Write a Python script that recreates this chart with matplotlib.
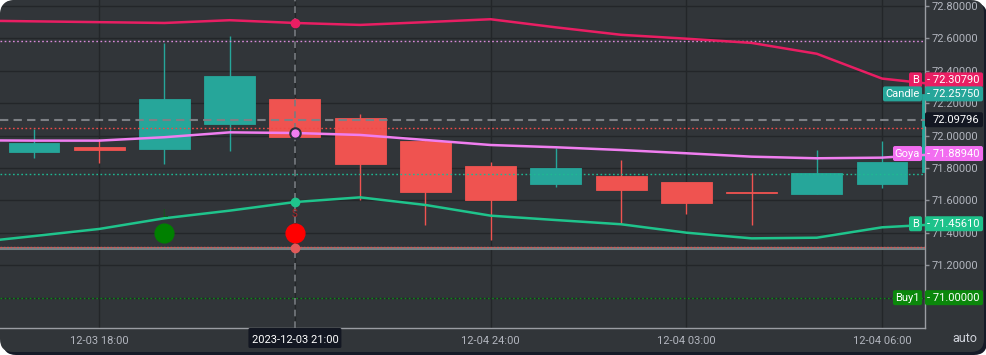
import numpy as np
import pandas as pd
import matplotlib
matplotlib.use('Agg')
import matplotlib.pyplot as plt
import matplotlib.dates as mdates
from matplotlib.patches import FancyBboxPatch, Polygon
from matplotlib.transforms import IdentityTransform

plt.rcParams['font.family'] = ['Roboto', 'DejaVu Sans']

# ---------------- data ----------------
times = ['2023-12-03 17:00', '2023-12-03 18:00', '2023-12-03 19:00', '2023-12-03 20:00',
         '2023-12-03 21:00', '2023-12-03 22:00', '2023-12-03 23:00', '2023-12-04 00:00',
         '2023-12-04 01:00', '2023-12-04 02:00', '2023-12-04 03:00', '2023-12-04 04:00',
         '2023-12-04 05:00', '2023-12-04 06:00', '2023-12-04 07:00']
opens = [71.901, 71.930, 71.915, 72.073, 72.224, 72.109, 71.969, 71.812,
         71.703, 71.753, 71.714, 71.650, 71.640, 71.703, 71.777]
highs = [72.041, 71.979, 72.570, 72.615, 72.235, 72.131, 71.972, 71.837,
         71.922, 71.849, 71.716, 71.767, 71.911, 71.967, 72.2575]
lows = [71.864, 71.833, 71.823, 71.907, 71.985, 71.603, 71.446, 71.356,
        71.685, 71.455, 71.514, 71.448, 71.640, 71.675, 71.777]
closes = [71.952, 71.911, 72.228, 72.370, 71.990, 71.823, 71.650, 71.603,
          71.800, 71.666, 71.582, 71.647, 71.769, 71.837, 72.2575]

line_times = ['2023-12-03 16:00'] + times
band_upper = [72.710, 72.705, 72.700, 72.695, 72.712, 72.695, 72.683, 72.700,
              72.718, 72.668, 72.622, 72.598, 72.572, 72.505, 72.352, 72.3079]
goya = [71.971, 71.969, 71.969, 71.990, 72.020, 72.016, 72.004, 71.973,
        71.942, 71.928, 71.911, 71.891, 71.870, 71.860, 71.864, 71.8894]
band_lower = [71.337, 71.380, 71.424, 71.490, 71.537, 71.590, 71.619, 71.572,
              71.506, 71.479, 71.453, 71.401, 71.366, 71.370, 71.434, 71.4561]

level_pink = 72.582
level_red = 72.048
level_teal = 71.761
level_buy1 = 71.0
level_gray = 71.307
level_gray_red = 71.315

signal_times = ['2023-12-03 19:00', '2023-12-03 21:00']
signal_values = [71.397, 71.397]
signal_texts = ['L', 'S']
signal_colors = ['#008000', '#ff0000']
signal_text_colors = ['#0d5e12', '#b3262a']

cross_time = '2023-12-03 21:00'
cross_value = 72.09796

yticks = [71.0, 71.2, 71.4, 71.6, 71.8, 72.0, 72.2, 72.4, 72.6, 72.8]
ytick_labels = ['', '71.20000', '71.40000', '71.60000', '71.80000', '72.00000',
                '72.20000', '72.40000', '72.60000', '72.80000']
xtick_times = ['2023-12-03 18:00', '2023-12-03 21:00', '2023-12-04 00:00',
               '2023-12-04 03:00', '2023-12-04 06:00']
xtick_labels = ['12-03 18:00', '', '12-04 24:00', '12-04 03:00', '12-04 06:00']

# ---------------- colours ----------------
PANEL = '#313539'
GRID = '#232629'
UP = '#26a69a'
DOWN = '#ef5350'
CRIMSON = '#e91e63'
PINK = '#f07ef0'
GREEN = '#1fc48c'
TXT = '#b2b5be'

W, H = 987, 355
fig = plt.figure(figsize=(W / 100, H / 100), dpi=100)
fig.patch.set_facecolor('white')

# panel with rounded corners and a dark shadow
shadow = FancyBboxPatch((3, 0), 984, 352, boxstyle='round,pad=0,rounding_size=13',
                        transform=IdentityTransform(), fc='#151a27', ec='none', zorder=-3)
panel = FancyBboxPatch((0, 3), 984, 352, boxstyle='round,pad=0,rounding_size=13',
                       transform=IdentityTransform(), fc=PANEL, ec='none', zorder=-2)
fig.add_artist(shadow)
fig.add_artist(panel)

ax = fig.add_axes([0, 27 / H, 925 / W, 328 / H])
ax.set_facecolor('none')

x = mdates.date2num(pd.to_datetime(times))
lx = mdates.date2num(pd.to_datetime(line_times))
hr = 1 / 24
x0 = x[0] - 0.521 * hr
x1 = x[13] + 0.659 * hr
ax.set_xlim(x0, x1)
ax.set_ylim(70.8128, 72.8367)

# grid
xt = mdates.date2num(pd.to_datetime(xtick_times))
for v in yticks:
    ax.axhline(v, color=GRID, lw=1.0, zorder=0.5)
for t in xt:
    ax.axvline(t, color=GRID, lw=1.0, zorder=0.5)

# candles
o = np.array(opens); c = np.array(closes)
hi = np.array(highs); lo = np.array(lows)
cols = [UP if cc >= oo else DOWN for oo, cc in zip(o, c)]
ax.vlines(x, lo, hi, colors=cols, lw=1.0, zorder=2)
ax.bar(x, c - o, bottom=o, width=0.78 * hr, color=cols, edgecolor=cols, lw=0.6, zorder=3)

# level lines
ax.axhline(level_pink, color='#d98ad9', lw=1.0, ls=(0, (1.2, 1.8)), zorder=4)
ax.axhline(level_red, color='#f04a48', lw=1.0, ls=(0, (1.2, 1.8)), zorder=4)
ax.axhline(level_teal, color='#1fb893', lw=1.0, ls=(0, (1.2, 1.8)), zorder=4)
ax.axhline(level_buy1, color='#0f8a1a', lw=1.0, ls=(0, (1.2, 1.8)), zorder=4)
ax.axhline(level_gray, color='#758083', lw=2.2, zorder=4)
ax.axhline(level_gray_red, color='#e0504d', lw=1.0, ls=(0, (1.2, 1.2)), zorder=4.1)

# crosshair
xc = mdates.date2num(pd.to_datetime(cross_time))
ax.axvline(xc, color='#777b80', lw=1.2, ls=(0, (4, 3)), zorder=5)
ax.axhline(cross_value, color='#7d8085', lw=1.5, ls=(0, (4, 2.5)), zorder=5)

# indicator lines
ax.plot(lx, band_upper, color=CRIMSON, lw=1.8, zorder=6)
ax.plot(lx, goya, color=PINK, lw=1.8, zorder=6)
ax.plot(lx, band_lower, color=GREEN, lw=1.8, zorder=6)

# crosshair dots
ci = line_times.index(cross_time)
ax.plot([xc], [band_upper[ci]], 'o', ms=6, mfc=CRIMSON, mec=CRIMSON, zorder=7)
ax.plot([xc], [goya[ci]], 'o', ms=7.5, mfc=PINK, mec='#2b2f3a', mew=1.5, zorder=7)
ax.plot([xc], [band_lower[ci]], 'o', ms=6, mfc=GREEN, mec=GREEN, zorder=7)
ax.plot([xc], [level_gray], 'o', ms=6, mfc='#e25a5a', mec='#e25a5a', zorder=7)

# signals
sx = mdates.date2num(pd.to_datetime(signal_times))
for xi, yi, tx, colr, tc in zip(sx, signal_values, signal_texts, signal_colors, signal_text_colors):
    ax.plot([xi], [yi], 'o', ms=13.5, mfc=colr, mec=colr, zorder=8)
    ax.annotate(tx, (xi, yi), xytext=(0, 14), textcoords='offset points', ha='center',
                va='center', fontsize=7, color=tc, zorder=8)

# axes styling
for s in ['top', 'left']:
    ax.spines[s].set_visible(False)
ax.spines['right'].set_color('#9a9da3')
ax.spines['bottom'].set_color('#9a9da3')
ax.spines['right'].set_linewidth(1.0)
ax.spines['bottom'].set_linewidth(1.0)
ax.yaxis.tick_right()
ax.set_yticks(yticks)
ax.set_yticklabels(ytick_labels)
ax.tick_params(axis='y', colors='#8e9198', labelcolor=TXT, labelsize=8, length=3, width=1, pad=2)
ax.set_xticks(xt)
ax.set_xticklabels(xtick_labels)
ax.tick_params(axis='x', length=0, labelcolor=TXT, labelsize=8, pad=6)

# ---------------- right-hand labels ----------------
def ypix(v):
    return ax.transData.transform((x0, v))[1]

def value_label(val, color, name=None, shift=0, name_left=None, txtcolor='white', dash=True):
    yc = ypix(val) + shift
    h = 15
    box = FancyBboxPatch((925, yc - h / 2), 58, h, boxstyle='round,pad=0,rounding_size=2',
                         transform=IdentityTransform(), fc=color, ec='none', zorder=10)
    fig.add_artist(box)
    s = (f'- {val:.5f}' if dash else f'{val:.5f}')
    fig.text(927 if dash else 933, yc, s, transform=IdentityTransform(), color=txtcolor,
             fontsize=8, ha='left', va='center', zorder=11)
    if name is not None:
        nb = FancyBboxPatch((name_left, yc - h / 2), 922 - name_left, h,
                            boxstyle='round,pad=0,rounding_size=2',
                            transform=IdentityTransform(), fc=color, ec='none', zorder=10)
        fig.add_artist(nb)
        fig.text((name_left + 922) / 2, yc, name, transform=IdentityTransform(), color='white',
                 fontsize=8, ha='center', va='center', zorder=11)

value_label(band_upper[-1], CRIMSON, 'B', shift=5.8, name_left=909)
value_label(closes[-1], UP, 'Candle', name_left=883)
value_label(cross_value, '#131722', dash=False)
value_label(goya[-1], '#f26ef0', 'Goya', name_left=893)
value_label(band_lower[-1], '#1ec28b', 'B', name_left=909)
value_label(level_buy1, '#0b870b', 'Buy1', name_left=893)

# crosshair time label
xcp = ax.transData.transform((xc, 0))[0]
tb = FancyBboxPatch((xcp - 46.5, H - 348), 93, 20, boxstyle='round,pad=0,rounding_size=1.5',
                    transform=IdentityTransform(), fc='#131722', ec='none', zorder=10)
fig.add_artist(tb)
fig.text(xcp, H - 340, '2023-12-03 21:00', transform=IdentityTransform(), color='white',
         fontsize=8, ha='center', va='center', zorder=11)

fig.text(965, H - 339, 'auto', transform=IdentityTransform(), color='#d1d4dc',
         fontsize=9, ha='center', va='center', zorder=11)

# top-left rounded corner mask
r = 13
th = np.linspace(np.pi / 2, np.pi, 20)
arc = np.column_stack([r + r * np.cos(th), (H - r) + r * np.sin(th)])
mask = Polygon(np.vstack([[[0, H], [r, H]], arc, [[0, H - r]]]), closed=True,
               transform=IdentityTransform(), fc='white', ec='none', zorder=20)
fig.add_artist(mask)

fig.savefig('out.png', dpi=100, facecolor='white')
